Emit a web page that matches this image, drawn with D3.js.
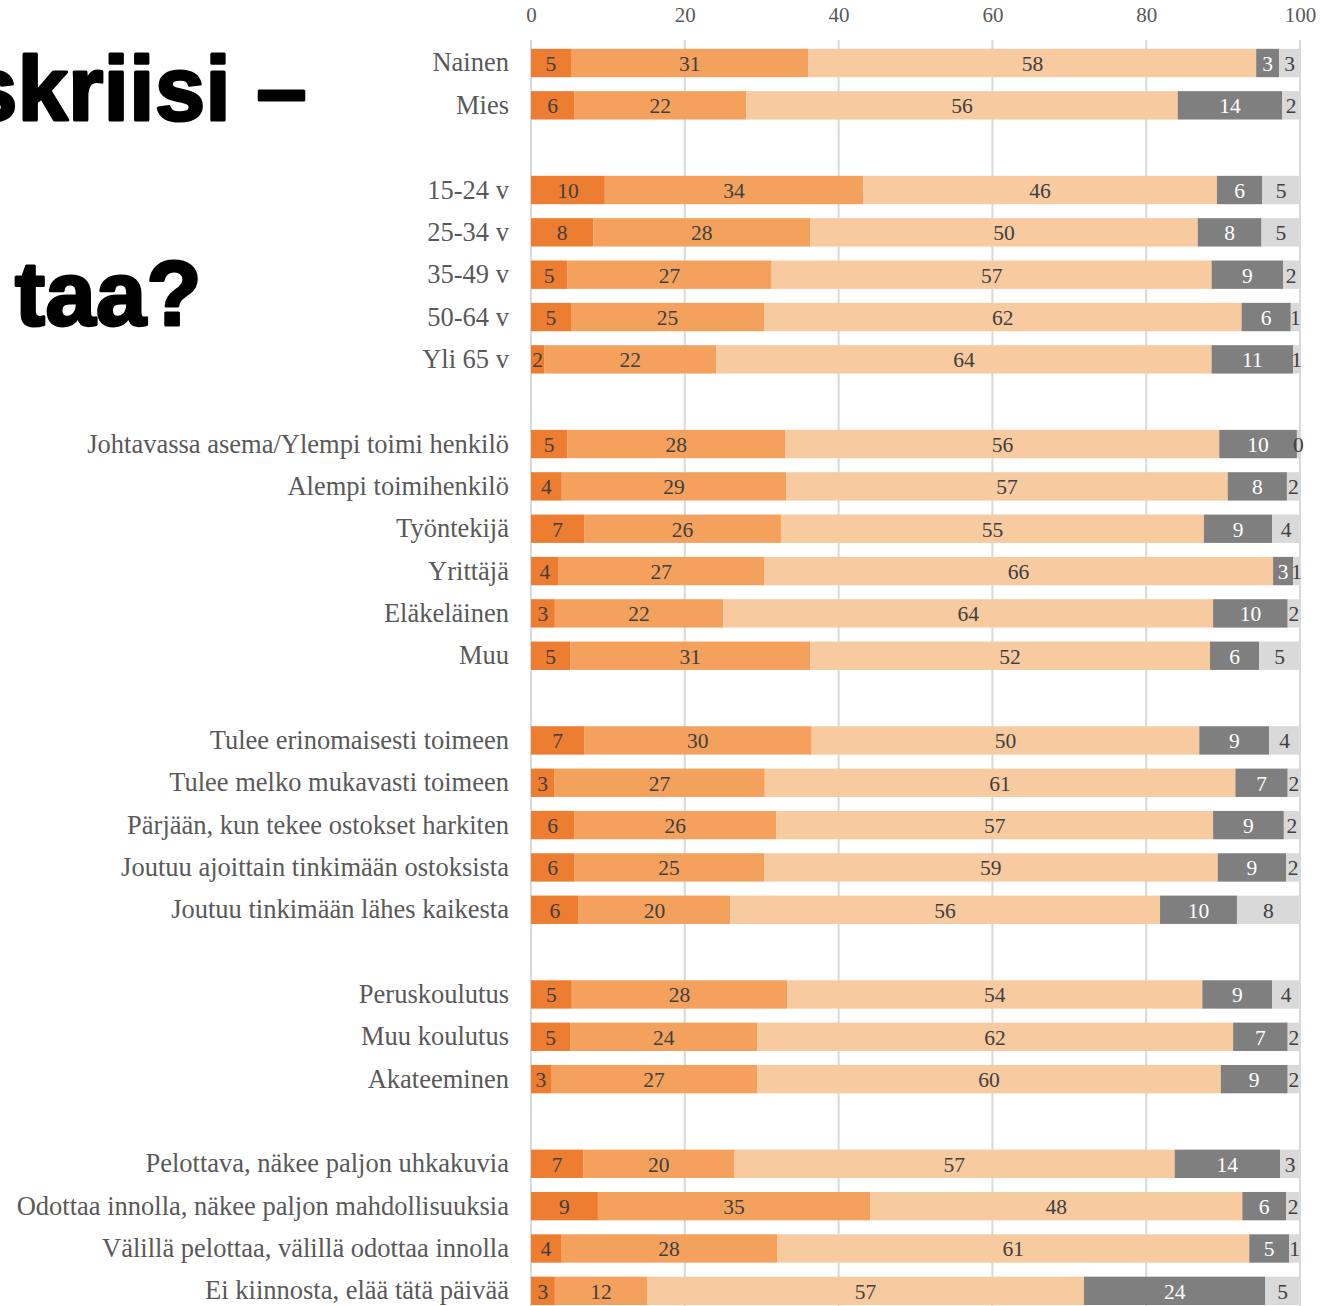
<!DOCTYPE html>
<html><head><meta charset="utf-8">
<script src="https://cdn.jsdelivr.net/npm/d3@7"></script>
<style>body{margin:0;background:#fff}svg{display:block}</style>
</head><body><svg id="c" width="1332" height="1306"></svg>
<script>
const categories = ["Nainen","Mies","",
 "15-24 v","25-34 v","35-49 v","50-64 v","Yli 65 v","",
 "Johtavassa asema/Ylempi toimi henkilö","Alempi toimihenkilö","Työntekijä","Yrittäjä","Eläkeläinen","Muu","",
 "Tulee erinomaisesti toimeen","Tulee melko mukavasti toimeen","Pärjään, kun tekee ostokset harkiten","Joutuu ajoittain tinkimään ostoksista","Joutuu tinkimään lähes kaikesta","",
 "Peruskoulutus","Muu koulutus","Akateeminen","",
 "Pelottava, näkee paljon uhkakuvia","Odottaa innolla, näkee paljon mahdollisuuksia","Välillä pelottaa, välillä odottaa innolla","Ei kiinnosta, elää tätä päivää"];
const series1 = [5.2,5.6,null, 9.6,8.1,4.7,5.2,1.7,null, 4.7,4.0,6.9,3.6,3.1,5.1,null, 6.9,3.0,5.6,5.6,6.2,null, 5.3,5.1,2.6,null, 6.8,8.7,3.9,3.1];
const series2 = [30.9,22.4,null, 33.6,28.2,26.6,25.1,22.4,null, 28.4,29.2,25.6,26.7,21.9,31.2,null, 29.6,27.4,26.3,24.7,19.7,null, 28.0,24.3,26.8,null, 19.6,35.4,28.1,12.0];
const series3 = [58.2,56.1,null, 46.0,50.4,57.2,62.1,64.4,null, 56.4,57.4,55.0,66.2,63.7,52.0,null, 50.4,61.2,56.8,59.0,55.9,null, 54.0,61.9,60.3,null, 57.3,48.4,61.4,56.8];
const series4 = [3.0,13.6,null, 5.9,8.3,9.3,6.4,10.6,null, 10.1,7.7,8.9,2.6,9.7,6.4,null, 9.1,6.8,9.2,8.9,10.0,null, 9.1,7.1,8.7,null, 13.7,5.7,5.2,23.6];
const series5 = [2.7,2.3,null, 4.9,5.0,2.1,1.2,0.9,null, 0.4,1.7,3.6,0.9,1.6,5.3,null, 4.0,1.6,2.1,1.8,8.2,null, 3.6,1.6,1.6,null, 2.6,1.8,1.4,4.5];
const xTicks = [0,20,40,60,80,100];
const titleLines = ["skriisi –","taa?"];

const seriesList = [series1,series2,series3,series4,series5];
const colors = ["#ED7D31","#F4A15D","#F8CAA0","#7F7F7F","#D9D9D9"];
const labelColors = ["#404040","#404040","#404040","#ffffff","#404040"];

const svg = d3.select("#c");
const serif = "'Liberation Serif','DejaVu Serif',Georgia,serif";
const keys = categories.map((c,i)=> c===""? "gap"+i : c);
const x = d3.scaleLinear().domain([0,100]).range([531,1300]);
const y = d3.scaleBand().domain(keys).range([41.83,1312]).paddingInner(0.33).paddingOuter(0.165);

// title
svg.append("g").selectAll("text").data(titleLines).join("text")
  .attr("x",(d,i)=> i===0?307:202)
  .attr("y",(d,i)=> i===0?120:325)
  .attr("text-anchor","end")
  .attr("font-family","'Liberation Sans',Arial,sans-serif")
  .attr("font-weight","bold")
  .attr("font-size",90)
  .attr("letter-spacing",0.5)
  .attr("stroke","#000").attr("stroke-width",3).attr("stroke-linejoin","round")
  .attr("fill","#000")
  .text(d=>d);

// grid
svg.append("g").selectAll("line").data(xTicks).join("line")
  .attr("x1",d=>x(d)).attr("x2",d=>x(d))
  .attr("y1",40).attr("y2",1306)
  .attr("stroke","#D9D9D9").attr("stroke-width",2);

// axis
const axis = svg.append("g").attr("transform","translate(0,24)")
  .call(d3.axisTop(x).tickValues(xTicks).tickSize(0).tickPadding(0));
axis.select(".domain").remove();
axis.selectAll("text").attr("font-family",serif).attr("font-size",21).attr("fill","#595959")
  .attr("dy","-0.1em");

// stacked bars
const rows = categories.map((c,i)=>({key:keys[i], cat:c, vals:seriesList.map(s=>s[i])})).filter(r=>r.cat!=="");
const segs = [];
rows.forEach(r=>{
  let acc=0;
  r.vals.forEach((v,j)=>{ segs.push({key:r.key, j, v, x0:acc, x1:acc+v}); acc+=v; });
});
svg.append("g").selectAll("rect").data(segs).join("rect")
  .attr("x",d=>x(d.x0)).attr("width",d=>x(d.x1)-x(d.x0))
  .attr("y",d=>y(d.key)).attr("height",y.bandwidth())
  .attr("fill",d=>colors[d.j]);

svg.append("g").selectAll("text").data(segs).join("text")
  .attr("x",d=>(x(d.x0)+x(d.x1))/2)
  .attr("y",d=>y(d.key)+y.bandwidth()/2+8)
  .attr("text-anchor","middle")
  .attr("font-family",serif).attr("font-size",21.5)
  .attr("fill",d=>labelColors[d.j])
  .text(d=>Math.round(d.v));

// category labels
svg.append("g").selectAll("text").data(rows).join("text")
  .attr("x",509).attr("y",d=>y(d.key)+y.bandwidth()/2+8.5)
  .attr("text-anchor","end")
  .attr("font-family",serif).attr("font-size",26.5)
  .attr("fill","#595959")
  .text(d=>d.cat);
</script></body></html>
